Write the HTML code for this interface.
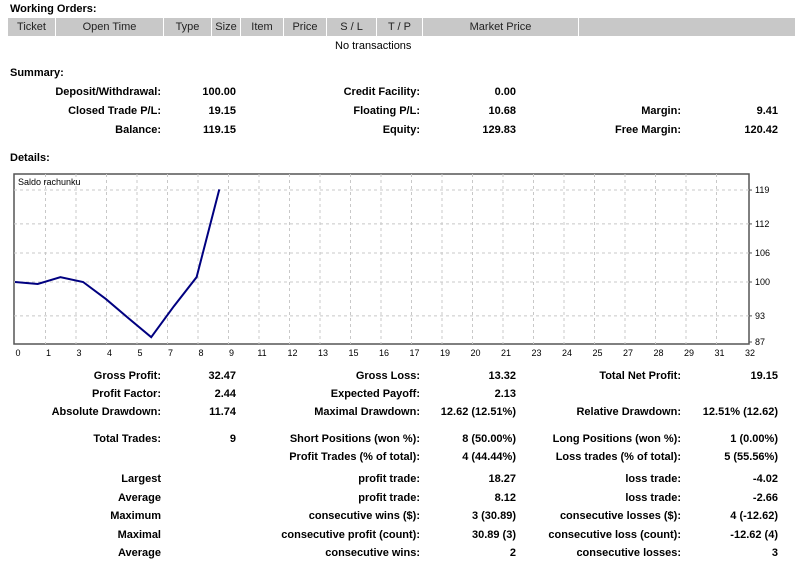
<!DOCTYPE html>
<html><head><meta charset="utf-8">
<style>
body{margin:0;width:800px;height:563px;background:#fff;position:relative;overflow:hidden;font-family:"Liberation Sans",Arial,sans-serif;font-size:11px;color:#000}
.t{position:absolute;white-space:nowrap;line-height:13px}
.b{font-weight:bold}
.r{text-align:right}
.hd{position:absolute;top:18px;height:18px;background:#c8c8c8;line-height:18px;text-align:center;font-size:11px;color:#222}
</style></head><body>
<div class="t b" style="left:10px;top:3px">Working Orders:</div>
<div id="hdr"></div>
<div class="t" style="left:335px;top:40px">No transactions</div>
<div class="t b" style="left:10px;top:67px">Summary:</div>
<div class="t b" style="left:10px;top:152px">Details:</div>
<div id="stats"></div>
<svg id="chart" width="800" height="563" style="position:absolute;left:0;top:0"></svg>
<script>
const balanceX=[0,1,2,3,4,5,6,7,8,9];
const balanceY=[100,99.6,101,100,96.5,92.5,88.6,95,101,119.15];
const yTicks=[119,112,106,100,93,87];
const xTickLabels=["0","1","3","4","5","7","8","9","11","12","13","15","16","17","19","20","21","23","24","25","27","28","29","31","32"];

const cols=[[8,55,"Ticket"],[56,163,"Open Time"],[164,211,"Type"],[212,240,"Size"],[241,283,"Item"],[284,326,"Price"],[327,376,"S / L"],[377,422,"T / P"],[423,578,"Market Price"],[579,795,""]];
const hdr=document.getElementById('hdr');
cols.forEach(c=>{const d=document.createElement('div');d.className='hd';d.style.left=c[0]+'px';d.style.width=(c[1]-c[0])+'px';d.textContent=c[2];


hdr.appendChild(d);});

const rows=[
[93,"Deposit/Withdrawal:","100.00","Credit Facility:","0.00","",""],
[112,"Closed Trade P/L:","19.15","Floating P/L:","10.68","Margin:","9.41"],
[131,"Balance:","119.15","Equity:","129.83","Free Margin:","120.42"],
[377,"Gross Profit:","32.47","Gross Loss:","13.32","Total Net Profit:","19.15"],
[395,"Profit Factor:","2.44","Expected Payoff:","2.13","",""],
[413,"Absolute Drawdown:","11.74","Maximal Drawdown:","12.62 (12.51%)","Relative Drawdown:","12.51% (12.62)"],
[440,"Total Trades:","9","Short Positions (won %):","8 (50.00%)","Long Positions (won %):","1 (0.00%)"],
[458,"","","Profit Trades (% of total):","4 (44.44%)","Loss trades (% of total):","5 (55.56%)"],
[480,"Largest","","profit trade:","18.27","loss trade:","-4.02"],
[499,"Average","","profit trade:","8.12","loss trade:","-2.66"],
[517,"Maximum","","consecutive wins ($):","3 (30.89)","consecutive losses ($):","4 (-12.62)"],
[536,"Maximal","","consecutive profit (count):","30.89 (3)","consecutive loss (count):","-12.62 (4)"],
[554,"Average","","consecutive wins:","2","consecutive losses:","3"]];
const rights=[161,236,420,516,681,778];
const st=document.getElementById('stats');
rows.forEach(r=>{for(let i=0;i<6;i++){if(!r[i+1])continue;const d=document.createElement('div');d.className='t b r';
d.style.right=(800-rights[i])+'px';d.style.top=(r[0]-7)+'px';d.textContent=r[i+1];


st.appendChild(d);}});

const svg=document.getElementById('chart');const NS='http://www.w3.org/2000/svg';
const L=14,R=749,T=174,B=344;
const X=v=>15+v*22.7;
const Y=v=>282-(v-100)*4.84;
function el(n,a){const e=document.createElementNS(NS,n);for(const k in a)e.setAttribute(k,a[k]);svg.appendChild(e);return e;}
const frame=el('rect',{x:L,y:T,width:R-L,height:B-T,fill:'#fff',stroke:'#555','stroke-width':1.5});


xTickLabels.forEach((lab,k)=>{const x=15+k*30.5;
if(k>0&&x<R-5){const g=el('line',{x1:x,y1:T,x2:x,y2:B,stroke:'#c8c8c8','stroke-dasharray':'3,3'});

}
const t=el('text',{x:x+3,y:356,'font-size':9,'text-anchor':'middle','font-family':'Liberation Sans, sans-serif'});t.textContent=lab;

});
yTicks.forEach(v=>{const y=Y(v);
if(v!==87){const g=el('line',{x1:L,y1:y,x2:R,y2:y,stroke:'#c8c8c8','stroke-dasharray':'3,3'});

}
const yy=v===87?342:y;
el('line',{x1:R,y1:yy,x2:R+3,y2:yy,stroke:'#555'});
const t=el('text',{x:755,y:yy+3,'font-size':9,'font-family':'Liberation Sans, sans-serif'});t.textContent=v;

});
const tt=el('text',{x:18,y:185,'font-size':9,'font-family':'Liberation Sans, sans-serif'});tt.textContent='Saldo rachunku';


const pts=balanceX.map((x,i)=>X(x)+','+Y(balanceY[i])).join(' ');
const pl=el('polyline',{points:pts,fill:'none',stroke:'#000080','stroke-width':2});


</script>
</body></html>
